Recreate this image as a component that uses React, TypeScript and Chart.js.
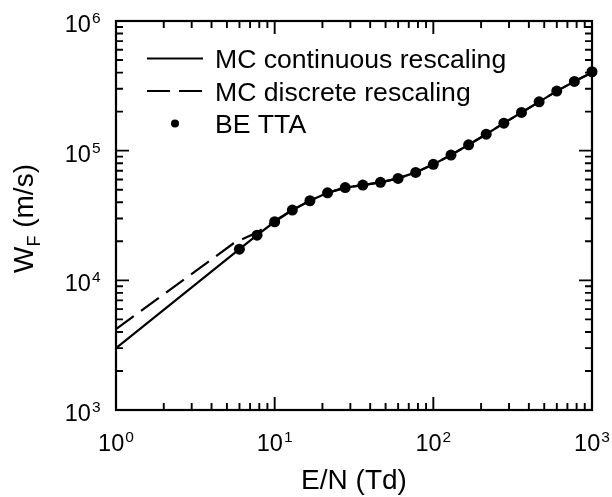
import React, { useEffect, useRef } from "react";
import { Chart, registerables } from "chart.js";

Chart.register(...registerables);

// BE TTA points
const beX = [5.995, 7.743, 10.0, 12.92, 16.68, 21.54, 27.83, 35.94, 46.42, 59.95, 77.43, 100, 129.2, 166.8, 215.4, 278.3, 359.4, 464.2, 599.5, 774.3, 1000];
const beY = [17400, 22300, 28300, 34800, 41100, 47300, 51900, 54300, 57000, 61100, 68000, 78400, 92500, 111000, 134000, 163000, 197000, 238000, 288000, 342000, 406000];

// MC continuous rescaling (solid)
const contX = [1, 5.995, 7.743, 10.0, 12.92, 16.68, 21.54, 27.83, 35.94, 46.42, 59.95, 77.43, 100, 129.2, 166.8, 215.4, 278.3, 359.4, 464.2, 599.5, 774.3, 1000];
const contY = [3000, 17400, 22300, 28300, 34800, 41100, 47300, 51900, 54300, 57000, 61100, 68000, 78400, 92500, 111000, 134000, 163000, 197000, 238000, 288000, 342000, 400000];

// MC discrete rescaling (dashed)
const discX = [1, 5.51, 7.743, 10.0, 12.92, 16.68, 21.54, 27.83, 35.94, 46.42, 59.95, 77.43, 100, 129.2, 166.8, 215.4, 278.3, 359.4, 464.2, 599.5, 774.3, 1000];
const discY = [4200, 19300, 23400, 28700, 34900, 41100, 47300, 51900, 54300, 57000, 61100, 68000, 78400, 92500, 111000, 134000, 163000, 197000, 238000, 288000, 342000, 400000];

// axis tick labels (10^exp)
const xMajor = [1, 10, 100, 1000];
const xExps = ["0", "1", "2", "3"];
const yMajor = [1e3, 1e4, 1e5, 1e6];
const yExps = ["3", "4", "5", "6"];
const minorMult = [2, 3, 4, 5, 6, 7, 8, 9];
const xDecades = [1, 10, 100];
const yDecades = [1e3, 1e4, 1e5];

const legendLabels = ["MC continuous rescaling", "MC discrete rescaling", "BE TTA"];
const xTitle = "E/N (Td)";
const yTitleMain = "W";
const yTitleSub = "F";
const yTitleRest = " (m/s)";

const FONT = '"Liberation Sans", Arial, Helvetica, sans-serif';

const decorPlugin = {
  id: "decor",
  afterDatasetsDraw(chart: any) {
    const ctx: CanvasRenderingContext2D = chart.ctx;
    const xs = chart.scales.x;
    const ys = chart.scales.y;
    const { left, right, top, bottom } = chart.chartArea;
    ctx.save();
    ctx.strokeStyle = "#000";
    ctx.fillStyle = "#000";
    ctx.lineWidth = 2.2;
    ctx.setLineDash([]);
    ctx.strokeRect(left, top, right - left, bottom - top);

    const MAJ = 13;
    const MIN = 7;
    ctx.lineWidth = 1.9;
    const vtick = (v: number, len: number) => {
      const px = xs.getPixelForValue(v);
      ctx.beginPath();
      ctx.moveTo(px, bottom);
      ctx.lineTo(px, bottom - len);
      ctx.moveTo(px, top);
      ctx.lineTo(px, top + len);
      ctx.stroke();
    };
    const htick = (v: number, len: number) => {
      const py = ys.getPixelForValue(v);
      ctx.beginPath();
      ctx.moveTo(left, py);
      ctx.lineTo(left + len, py);
      ctx.moveTo(right, py);
      ctx.lineTo(right - len, py);
      ctx.stroke();
    };
    xMajor.forEach((v) => vtick(v, MAJ));
    xDecades.forEach((d) => minorMult.forEach((m) => vtick(m * d, MIN)));
    yMajor.forEach((v) => htick(v, MAJ));
    yDecades.forEach((d) => minorMult.forEach((m) => htick(m * d, MIN)));

    // tick labels
    const bigF = `23.5px ${FONT}`;
    const supF = `15.5px ${FONT}`;
    ctx.textBaseline = "alphabetic";
    ctx.textAlign = "left";
    xMajor.forEach((v, i) => {
      const px = xs.getPixelForValue(v);
      ctx.font = bigF;
      const w1 = ctx.measureText("10").width;
      ctx.font = supF;
      const w2 = ctx.measureText(xExps[i]).width;
      const total = w1 + 1 + w2;
      const x0 = px - total / 2;
      ctx.font = bigF;
      ctx.fillText("10", x0, bottom + 41);
      ctx.font = supF;
      ctx.fillText(xExps[i], x0 + w1 + 1, bottom + 32);
    });
    yMajor.forEach((v, i) => {
      const py = ys.getPixelForValue(v);
      ctx.font = supF;
      const w2 = ctx.measureText(yExps[i]).width;
      ctx.font = bigF;
      const w1 = ctx.measureText("10").width;
      const xEnd = left - 15.5;
      const x0 = xEnd - w2 - 1 - w1;
      ctx.fillText("10", x0, py + 11);
      ctx.font = supF;
      ctx.fillText(yExps[i], x0 + w1 + 1, py + 2);
    });

    // x title
    ctx.font = `28px ${FONT}`;
    ctx.textAlign = "center";
    ctx.fillText(xTitle, (left + right) / 2, bottom + 79);

    // y title (rotated)
    ctx.save();
    ctx.translate(33, (top + bottom) / 2 + 3);
    ctx.rotate(-Math.PI / 2);
    ctx.textAlign = "left";
    const mainF = `28px ${FONT}`;
    const subF = `18px ${FONT}`;
    ctx.font = mainF;
    const wW = ctx.measureText(yTitleMain).width;
    const wR = ctx.measureText(yTitleRest).width;
    ctx.font = subF;
    const wS = ctx.measureText(yTitleSub).width;
    const tot = wW + wS + wR;
    let cx = -tot / 2;
    ctx.font = mainF;
    ctx.fillText(yTitleMain, cx, 0);
    cx += wW;
    ctx.font = subF;
    ctx.fillText(yTitleSub, cx, 7);
    cx += wS;
    ctx.font = mainF;
    ctx.fillText(yTitleRest, cx, 0);
    ctx.restore();

    // legend
    const rows = [58.5, 91, 123.5];
    ctx.lineWidth = 2.2;
    ctx.beginPath();
    ctx.moveTo(147, rows[0]);
    ctx.lineTo(203, rows[0]);
    ctx.stroke();
    ctx.setLineDash([23, 9]);
    ctx.beginPath();
    ctx.moveTo(147, rows[1]);
    ctx.lineTo(202, rows[1]);
    ctx.stroke();
    ctx.setLineDash([]);
    ctx.beginPath();
    ctx.arc(175, rows[2], 4, 0, Math.PI * 2);
    ctx.fill();
    ctx.font = `26.6px ${FONT}`;
    ctx.textAlign = "left";
    legendLabels.forEach((t, i) => {
      ctx.fillText(t, 215, rows[i] + 9.5);
    });
    ctx.restore();
  },
};

export default function App() {
  const ref = useRef<HTMLCanvasElement | null>(null);
  useEffect(() => {
    if (!ref.current) return;
    const chart = new Chart(ref.current, {
      type: "scatter",
      data: {
        datasets: [
          {
            label: legendLabels[0],
            data: contX.map((x, i) => ({ x, y: contY[i] })),
            showLine: true,
            borderColor: "#000",
            borderWidth: 2.2,
            pointRadius: 0,
            fill: false,
            order: 3,
          },
          {
            label: legendLabels[1],
            data: discX.map((x, i) => ({ x, y: discY[i] })),
            showLine: true,
            borderColor: "#000",
            borderWidth: 2.2,
            borderDash: [22, 9],
            pointRadius: 0,
            fill: false,
            order: 2,
          },
          {
            label: legendLabels[2],
            data: beX.map((x, i) => ({ x, y: beY[i] })),
            showLine: false,
            backgroundColor: "#000",
            borderColor: "#000",
            borderWidth: 0,
            pointRadius: 5.5,
            clip: false,
            order: 1,
          },
        ],
      },
      options: {
        animation: false,
        responsive: false,
        layout: { padding: { left: 116, right: 20, top: 21, bottom: 87 } },
        plugins: { legend: { display: false }, tooltip: { enabled: false } },
        scales: {
          x: { type: "logarithmic", min: 1, max: 1000, display: false },
          y: { type: "logarithmic", min: 1000, max: 1000000, display: false },
        },
      },
      plugins: [decorPlugin],
    } as any);
    return () => chart.destroy();
  }, []);
  return (
    <div style={{ position: "fixed", left: 0, top: 0, width: 612, height: 497, background: "#fff" }}>
      <canvas ref={ref} width={612} height={497} style={{ display: "block" }} />
    </div>
  );
}
